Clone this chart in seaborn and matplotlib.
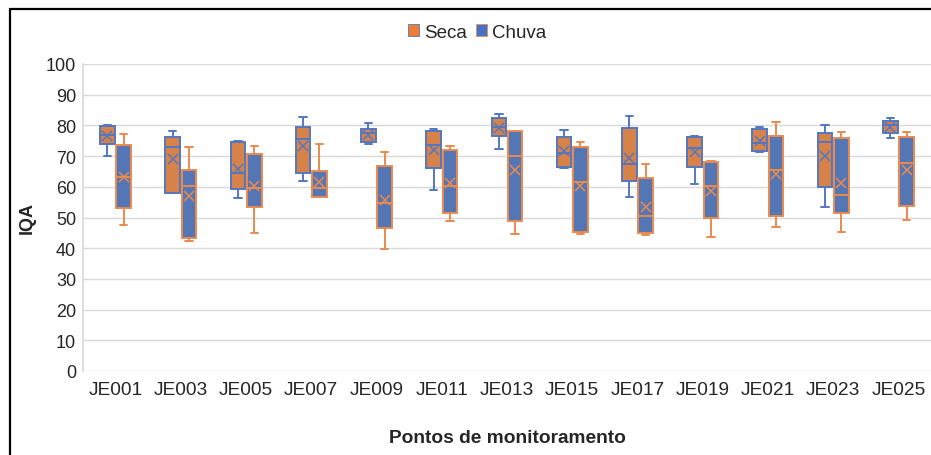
import numpy as np
import pandas as pd
import matplotlib.pyplot as plt
from matplotlib.lines import Line2D
from matplotlib.patches import Patch
import seaborn as sns

# pontos de monitoramento
pontos = ["JE001", "JE003", "JE005", "JE007", "JE009", "JE011", "JE013",
          "JE015", "JE017", "JE019", "JE021", "JE023", "JE025"]

# estatisticas (min, q1, mediana, q3, max, media)
seca_min = [69.9, 58.0, 56.3, 62.0, 74.0, 59.0, 72.2, 66.1, 56.6, 61.0, 71.3, 53.5, 76.0]
seca_q1 = [73.9, 58.0, 59.2, 64.5, 74.5, 66.0, 76.7, 66.6, 61.9, 66.3, 71.8, 60.0, 77.5]
seca_med = [76.9, 72.9, 64.6, 75.7, 77.4, 73.5, 79.6, 71.1, 67.5, 72.6, 74.3, 74.5, 80.2]
seca_q3 = [79.7, 76.1, 74.6, 79.5, 78.8, 78.3, 82.3, 76.1, 79.2, 76.3, 78.7, 77.5, 81.3]
seca_max = [80.2, 78.1, 74.9, 82.6, 80.7, 78.7, 83.7, 78.4, 83.2, 76.6, 79.6, 80.2, 82.4]
seca_mean = [76.4, 69.2, 65.8, 73.4, 77.0, 72.0, 79.3, 71.6, 69.4, 71.2, 75.0, 70.1, 79.6]

chuva_min = [47.6, 42.3, 44.9, 56.7, 39.8, 48.9, 44.7, 44.6, 44.4, 43.7, 47.0, 45.4, 49.2]
chuva_q1 = [53.2, 43.2, 53.4, 56.7, 46.6, 51.6, 48.9, 45.3, 45.0, 49.8, 50.4, 51.6, 53.6]
chuva_med = [63.3, 60.4, 59.5, 59.7, 54.8, 60.2, 70.1, 61.6, 50.5, 60.3, 65.4, 57.3, 67.6]
chuva_q3 = [73.7, 65.4, 70.6, 65.1, 66.8, 72.0, 78.1, 73.1, 62.9, 68.2, 76.5, 75.8, 76.3]
chuva_max = [77.2, 73.1, 73.4, 74.0, 71.2, 73.2, 78.1, 74.6, 67.3, 68.4, 81.0, 77.9, 77.9]
chuva_mean = [63.1, 57.1, 60.4, 61.5, 55.8, 61.1, 65.5, 60.1, 53.3, 58.7, 64.2, 61.1, 65.5]

periodos = ["Seca", "Chuva"]
cor_fill = {"Seca": "#ED7D31", "Chuva": "#4472C4"}
cor_linha = {"Seca": "#5377C2", "Chuva": "#EB8A4E"}

# cinco valores por caixa -> quartis exatos com whis=inf
linhas = []
medias = []
stats = {
    "Seca": (seca_min, seca_q1, seca_med, seca_q3, seca_max, seca_mean),
    "Chuva": (chuva_min, chuva_q1, chuva_med, chuva_q3, chuva_max, chuva_mean),
}
for per, (mn, q1, md, q3, mx, me) in stats.items():
    for i, p in enumerate(pontos):
        for v in (mn[i], q1[i], md[i], q3[i], mx[i]):
            linhas.append({"ponto": p, "periodo": per, "IQA": v})
        medias.append({"ponto": p, "periodo": per, "IQA": me[i]})
df = pd.DataFrame(linhas)
df_media = pd.DataFrame(medias)

sns.set_theme(style="white")
plt.rcParams["font.family"] = ["Liberation Sans", "DejaVu Sans"]

fig = plt.figure(figsize=(9.31, 4.56), dpi=100)
ax = fig.add_axes([83 / 931, 1 - 372 / 456, 848 / 931, 307 / 456])

for per in periodos:
    sub = df[df["periodo"] == per]
    sns.boxplot(data=sub, x="ponto", y="IQA", hue="periodo", order=pontos,
                hue_order=periodos, palette=cor_fill, dodge=True, width=0.5,
                gap=0.1, whis=np.inf, showfliers=False,
                linecolor=cor_linha[per], linewidth=1.4, legend=False, ax=ax)
    sub_m = df_media[df_media["periodo"] == per]
    sns.pointplot(data=sub_m, x="ponto", y="IQA", hue="periodo", order=pontos,
                  hue_order=periodos, palette=cor_linha, dodge=0.25,
                  markers="x", linestyles="none", errorbar=None,
                  markersize=6.5, markeredgewidth=1.1, legend=False, ax=ax)

ax.set_ylim(0, 100)
ax.set_yticks(range(0, 101, 10))
ax.set_xlim(-0.5, len(pontos) - 0.5)
ax.grid(axis="y", color="#d9d9d9", linewidth=1)
ax.set_axisbelow(True)
for s in ["top", "right", "bottom"]:
    ax.spines[s].set_visible(False)
ax.spines["left"].set_color("#d9d9d9")
ax.tick_params(axis="both", length=0, colors="#262626")
ax.tick_params(axis="x", pad=7, labelsize=13.8)
ax.tick_params(axis="y", pad=5, labelsize=13)

ax.set_xlabel("Pontos de monitoramento", fontsize=13.8, fontweight="bold", color="#262626")
ax.set_ylabel("IQA", fontsize=13, fontweight="bold", color="#262626")
ax.xaxis.set_label_coords(0.5, -0.19)
ax.yaxis.set_label_coords(-0.056, 0.5)

handles = [Patch(facecolor=cor_fill[p], edgecolor=cor_linha[p], linewidth=0.6, label=p)
           for p in periodos]
fig.legend(handles=handles, loc="center", bbox_to_anchor=(477 / 931, 1 - 33 / 456),
           ncol=2, frameon=False, fontsize=13.5, handlelength=0.6, handleheight=0.6,
           handletextpad=0.25, columnspacing=0.5, labelcolor="#262626")

# moldura do grafico (esquerda e topo)
fig.add_artist(Line2D([10 / 931, 10 / 931], [0, 1 - 10 / 456], color="black",
                      linewidth=1.6, transform=fig.transFigure))
fig.add_artist(Line2D([10 / 931, 1], [1 - 10 / 456, 1 - 10 / 456], color="black",
                      linewidth=1.6, transform=fig.transFigure))

fig.savefig("out.png", dpi=100)
